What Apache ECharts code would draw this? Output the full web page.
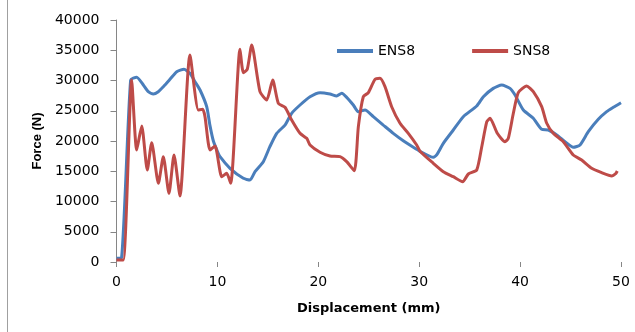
<!DOCTYPE html>
<html>
<head>
<meta charset="utf-8">
<script src="https://cdn.jsdelivr.net/npm/echarts@6/dist/echarts.min.js"></script>
<style>
html,body{margin:0;padding:0;background:#fff;}
#chart{width:635px;height:332px;}
</style>
</head>
<body>
<div id="chart"></div>
<script>
// Displacement (mm) and Force (N) for each series
const ensX = [0, 0.5, 1.4, 2.0, 2.66, 3.15, 3.65, 4.14, 4.64, 5.3, 5.97, 6.69, 7.28, 7.78, 8.28, 8.94, 9.27, 9.6, 10.0, 10.26, 11.25, 12.57, 13.23, 13.73, 14.55, 15.2, 15.88, 16.7, 17.36, 18.19, 19.18, 20.17, 21.16, 21.82, 22.32, 22.81, 23.47, 23.96, 24.63, 25.45, 26.44, 27.43, 28.42, 29.42, 30.08, 31.4, 31.73, 32.39, 33.38, 34.37, 35.7, 36.36, 37.34, 38.18, 39.0, 39.5, 40.32, 41.31, 42.14, 42.8, 43.63, 44.45, 45.27, 45.94, 46.76, 47.75, 48.58, 49.24, 50.0];
const ensY = [600, 700, 30080, 30530, 29260, 28150, 27770, 28150, 28980, 30200, 31460, 31850, 31190, 29800, 28430, 25670, 22500, 20000, 18300, 17400, 15490, 13830, 13550, 14930, 16580, 19060, 21270, 22640, 24580, 25950, 27320, 27990, 27770, 27440, 27880, 27220, 25950, 24850, 25120, 24020, 22640, 21270, 20050, 18960, 18300, 17300, 17690, 19620, 21820, 24020, 25790, 27320, 28700, 29260, 28700, 27600, 25120, 23750, 21930, 21820, 20990, 19890, 18960, 19340, 21540, 23590, 24850, 25570, 26330];
const snsX = [0, 0.67, 1.5, 2.0, 2.5, 3.05, 3.49, 4.15, 4.64, 5.2, 5.7, 6.29, 7.28, 8.11, 8.54, 8.77, 9.27, 9.76, 10.43, 10.92, 11.32, 12.24, 12.57, 12.96, 13.4, 14.22, 14.89, 15.48, 16.04, 16.7, 17.36, 18.19, 18.85, 19.18, 20.17, 21.16, 22.15, 22.81, 23.57, 23.97, 24.46, 24.96, 25.62, 26.11, 26.61, 27.27, 28.1, 28.92, 29.75, 30.08, 31.4, 32.39, 33.38, 34.31, 34.87, 35.7, 36.2, 36.7, 37.02, 37.74, 38.5, 38.83, 39.33, 39.82, 40.65, 41.31, 42.14, 42.64, 43.29, 44.28, 45.27, 46.1, 47.09, 48.08, 49.08, 49.5, 49.63];
const snsY = [330, 330, 30080, 18510, 22480, 15210, 19720, 13000, 17410, 11350, 17690, 10910, 34220, 25120, 25240, 24020, 18510, 19170, 14100, 14660, 13000, 35150, 31290, 31850, 35870, 28150, 26780, 30080, 26230, 25570, 23470, 21270, 20440, 19340, 18150, 17520, 17410, 16580, 15090, 22370, 27320, 27990, 30190, 30360, 28980, 25670, 22930, 21270, 19340, 18300, 16310, 14930, 14100, 13280, 14550, 15210, 19060, 23190, 23750, 21270, 19890, 20440, 24580, 28000, 29090, 28150, 25670, 22930, 21270, 19890, 17690, 16860, 15490, 14770, 14220, 14660, 15040];
const seriesNames = ['ENS8', 'SNS8'];
const xTicks = {min: 0, max: 50, interval: 10};
const yTicks = {min: 0, max: 40000, interval: 5000};

const pair = (xs, ys) => xs.map((x, i) => [x, ys[i]]);
const chart = echarts.init(document.getElementById('chart'), null, {renderer: 'canvas'});
const font = 'DejaVu Sans';
chart.setOption({
  animation: false,
  backgroundColor: '#ffffff',
  color: ['#4A7EBB', '#BE4B48'],
  grid: {left: 116.5, right: 14, top: 20, bottom: 70, containLabel: false},
  legend: {
    data: seriesNames.map(n => ({name: n, icon: 'rect'})),
    left: 332, top: 39,
    itemWidth: 36, itemHeight: 4, itemGap: 57,
    textStyle: {fontFamily: font, fontSize: 14, color: '#000'}
  },
  xAxis: {
    type: 'value', min: xTicks.min, max: xTicks.max, interval: xTicks.interval,
    name: 'Displacement (mm)', nameLocation: 'middle', nameGap: 40,
    nameTextStyle: {fontFamily: font, fontSize: 13, fontWeight: 'bold', color: '#000'},
    axisLine: {show: false},
    axisTick: {show: true, length: 5, lineStyle: {color: '#868686'}},
    axisLabel: {fontFamily: font, fontSize: 14, color: '#000', margin: 13, formatter: v => String(v)},
    splitLine: {show: false}
  },
  yAxis: {
    type: 'value', min: yTicks.min, max: yTicks.max, interval: yTicks.interval,
    name: 'Force (N)', nameLocation: 'middle', nameGap: 73,
    nameTextStyle: {fontFamily: 'Liberation Sans', fontSize: 13, fontWeight: 'bold', color: '#000'},
    axisLine: {show: true, lineStyle: {color: '#868686', width: 1}},
    axisTick: {show: true, length: 6, lineStyle: {color: '#868686'}},
    axisLabel: {fontFamily: font, fontSize: 14, color: '#000', margin: 17, formatter: v => String(v)},
    splitLine: {show: false}
  },
  graphic: [{
    type: 'line', shape: {x1: 7.5, y1: 0, x2: 7.5, y2: 332},
    style: {stroke: '#a0a0a0', lineWidth: 1}, silent: true
  }],
  series: [
    {name: seriesNames[0], type: 'line', data: pair(ensX, ensY), smooth: 0.2, showSymbol: false, lineStyle: {width: 3}},
    {name: seriesNames[1], type: 'line', data: pair(snsX, snsY), smooth: 0.2, showSymbol: false, lineStyle: {width: 3}}
  ]
});
</script>
</body>
</html>
